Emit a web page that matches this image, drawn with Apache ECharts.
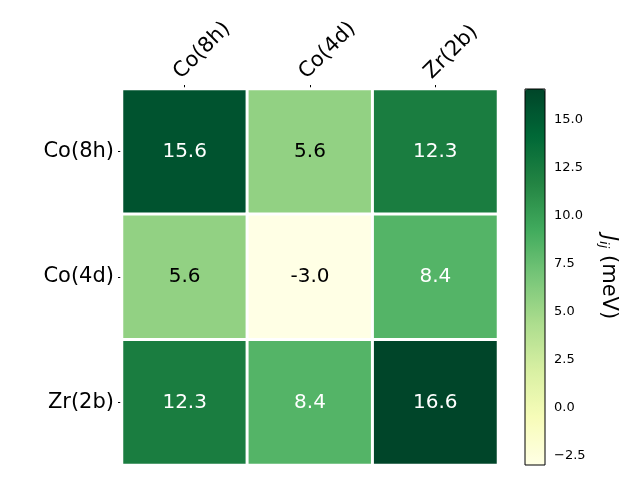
<!DOCTYPE html>
<html>
<head>
<meta charset="utf-8">
<script src="https://cdn.jsdelivr.net/npm/echarts@6/dist/echarts.min.js"></script>
<style>
  html, body { margin: 0; padding: 0; background: #fff; }
  #chart { width: 640px; height: 480px; }
</style>
</head>
<body>
<div id="chart"></div>
<script>
// site labels (rows and columns are the same)
const sites = ['Co(8h)', 'Co(4d)', 'Zr(2b)']
// J_ij values in meV, row by row
const rowCo8h = [15.6, 5.6, 12.3]
const rowCo4d = [5.6, -3.0, 8.4]
const rowZr2b = [12.3, 8.4, 16.6]
// colorbar range and ticks
const cbarMin = -3.0
const cbarMax = 16.6
const cbarTicks = [-2.5, 0, 2.5, 5, 7.5, 10, 12.5, 15]
// YlGn colormap
const ylgn = ['#ffffe5', '#f7fcb9', '#d9f0a3', '#addd8e', '#78c679', '#41ab5d', '#238443', '#006837', '#004529']

const rows = [rowCo8h, rowCo4d, rowZr2b]
let data = []
for (let i = 0; i < rows.length; i++) {
  for (let j = 0; j < rows[i].length; j++) {
    let v = rows[i][j]
    data.push({
      value: [j, i, v],
      label: { color: v > 7 ? '#ffffff' : '#000000' }
    })
  }
}

let chart = echarts.init(document.getElementById('chart'))
let font = 'DejaVu Sans'
let option = {
  backgroundColor: '#ffffff',
  textStyle: { fontFamily: font },
  grid: [
    { left: 122, top: 89, width: 376, height: 376 },
    { left: 525, top: 89, width: 20, height: 376, show: true, z: 10,
      borderColor: '#000', borderWidth: 1, backgroundColor: 'transparent' }
  ],
  xAxis: [
    {
      gridIndex: 0,
      type: 'category',
      position: 'top',
      data: sites,
      axisLine: { show: false },
      axisTick: { show: true, alignWithLabel: true, length: 4, lineStyle: { color: '#000' } },
      axisLabel: { rotate: -45, fontSize: 21, color: '#000', margin: 6, verticalAlign: 'bottom', fontFamily: font },
      splitLine: { show: false }
    },
    {
      gridIndex: 1,
      type: 'value',
      show: false,
      min: 0, max: 1
    }
  ],
  yAxis: [
    {
      gridIndex: 0,
      type: 'category',
      inverse: true,
      data: sites,
      axisLine: { show: false },
      axisTick: { show: true, alignWithLabel: true, length: 4, lineStyle: { color: '#000' } },
      axisLabel: { fontSize: 21, color: '#000', margin: 8, fontFamily: font },
      splitLine: { show: false }
    },
    {
      gridIndex: 1,
      type: 'value',
      position: 'right',
      min: cbarMin,
      max: cbarMax,
      axisLine: { show: false },
      axisTick: { show: true, length: 4, customValues: cbarTicks, lineStyle: { color: '#000' } },
      axisLabel: {
        customValues: cbarTicks,
        fontSize: 13, color: '#000', margin: 9, fontFamily: font,
        formatter: function (v) {
          let s = Math.abs(v).toFixed(1)
          return v < 0 ? '\u2212' + s : s
        }
      },
      splitLine: { show: false },
      name: '{j|J}{sub|ij}{n| (meV)}',
      nameLocation: 'middle',
      nameRotate: -90,
      nameGap: 52,
      nameTextStyle: {
        rich: {
          j: { fontSize: 21, fontStyle: 'italic', color: '#000', fontFamily: font },
          sub: { fontSize: 13, fontStyle: 'italic', color: '#000', fontFamily: font, verticalAlign: 'bottom', padding: [10, 0, 0, 0] },
          n: { fontSize: 21, color: '#000', fontFamily: font }
        }
      }
    }
  ],
  visualMap: {
    type: 'continuous',
    min: cbarMin,
    max: cbarMax,
    seriesIndex: 0,
    orient: 'vertical',
    left: 525,
    top: 89,
    itemWidth: 20,
    itemHeight: 376,
    padding: 0,
    calculable: false,
    showLabel: false,
    text: null,
    z: 1,
    inRange: { color: ylgn }
  },
  series: [
    {
      type: 'heatmap',
      xAxisIndex: 0,
      yAxisIndex: 0,
      data: data,
      itemStyle: { borderColor: '#ffffff', borderWidth: 3 },
      label: {
        show: true,
        fontSize: 20,
        fontFamily: font,
        formatter: function (p) { return p.value[2].toFixed(1) }
      },
      emphasis: { disabled: true }
    }
  ]
}
chart.setOption(option)
</script>
</body>
</html>
